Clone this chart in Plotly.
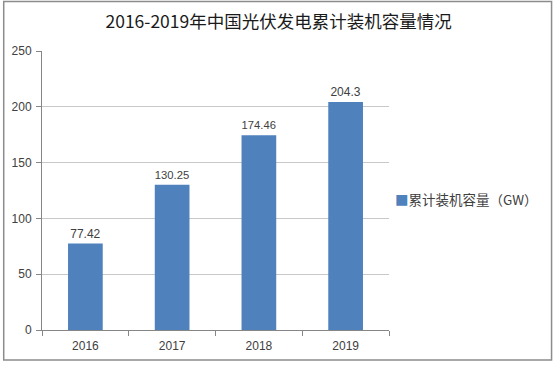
import plotly.graph_objects as go

years = ["2016", "2017", "2018", "2019"]
capacity = [77.42, 130.25, 174.46, 204.3]
labels = ["77.42", "130.25", "174.46", "204.3"]
series_name = "累计装机容量（GW）"
title_text = "2016-2019年中国光伏发电累计装机容量情况"
bar_color = "#4F81BD"

W, H = 557, 365
L, R, T, B = 40, 168, 51, 35
pw, ph = W - L - R, H - T - B

def px(x):
    return (x - L) / pw

def py(y):
    return (H - B - y) / ph

font_family = "Liberation Sans, Noto Sans CJK SC, sans-serif"

fig = go.Figure()
fig.add_trace(go.Bar(
    x=years, y=capacity, name=series_name,
    marker=dict(color=bar_color, line=dict(width=0)),
    text=labels, textposition="outside",
    textfont=dict(size=12, color="#404040", family=font_family),
    cliponaxis=False, showlegend=False,
))

fig.update_layout(
    width=W, height=H,
    margin=dict(l=L, r=R, t=T, b=B),
    paper_bgcolor="white", plot_bgcolor="white",
    bargap=0.6,
    title=dict(text=title_text, xref="paper", xanchor="center",
               y=1 - 22 / H, yanchor="middle",
               font=dict(size=17.5, color="#1a1a1a", family="Noto Sans CJK SC, sans-serif")),
    font=dict(family=font_family),
)
fig.layout.title.x = px(278)

# legend-like label
fig.add_annotation(
    xref="paper", yref="paper", x=px(393), y=py(199), xanchor="left", yanchor="middle",
    text=f"<span style='color:{bar_color}'>■</span>{series_name}",
    showarrow=False, font=dict(size=13.5, color="#404040", family="Noto Sans CJK SC, sans-serif"),
)

fig.update_yaxes(range=[0, 250], dtick=50, showgrid=True, gridcolor="#C8C8C8",
                 gridwidth=1, showline=True, linecolor="#868686", ticks="outside",
                 ticklen=5, tickcolor="#868686", zeroline=False, ticklabelstandoff=2,
                 tickfont=dict(size=12, color="#404040", family=font_family))
fig.update_xaxes(showline=True, linecolor="#868686", ticks="outside", ticklen=5,
                 tickcolor="#868686", tickson="boundaries", ticklabelstandoff=5,
                 tickfont=dict(size=12, color="#404040", family=font_family))

# chart border
fig.add_shape(type="rect", xref="paper", yref="paper",
              x0=px(1.5), x1=px(552.5), y0=py(360), y1=py(1.5),
              line=dict(color="#8C8C8C", width=1.5), fillcolor="rgba(0,0,0,0)", layer="below")

fig.write_html("out.html", config={"displayModeBar": False},
               post_script="document.body.style.margin='0';document.body.style.overflow='hidden';")
